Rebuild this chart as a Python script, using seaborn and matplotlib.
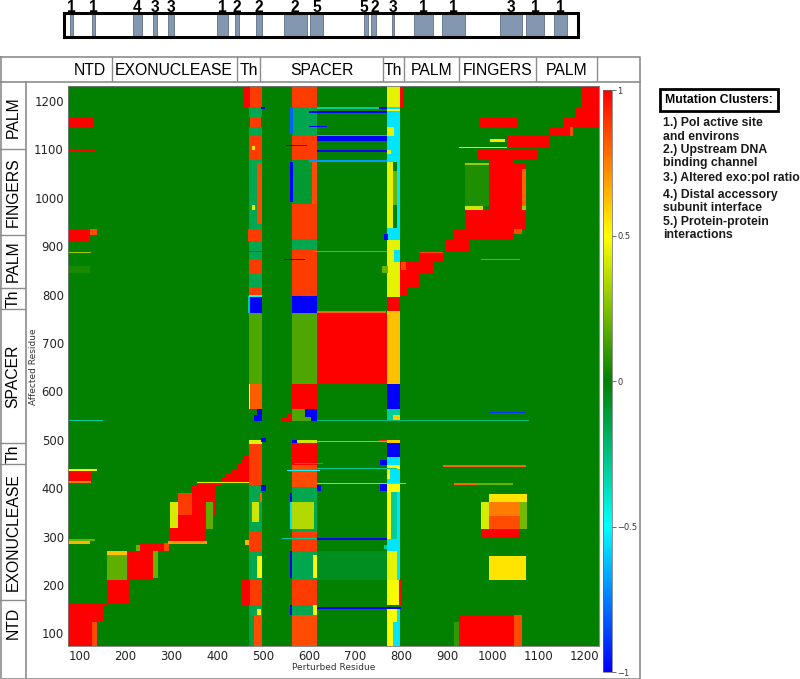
"""Residue perturbation heatmap with domain headers and mutation clusters."""

import matplotlib
matplotlib.use("Agg")
import matplotlib.pyplot as plt
import numpy as np
import seaborn as sns
from matplotlib.colors import LinearSegmentedColormap
from matplotlib.patches import Rectangle

plt.rcParams["font.family"] = ["Liberation Sans", "DejaVu Sans"]

# residue grid of the matrix
RES_MIN, RES_MAX, STEP = 75, 1231, 2
ticks = list(range(100, 1201, 100))

# domain annotation (perturbed axis / affected axis)
x_domains = ["NTD", "EXONUCLEASE", "Th", "SPACER", "Th", "PALM", "FINGERS", "PALM"]
x_domain_edges = [75, 170, 442, 494, 760, 806, 926, 1093, 1226]
y_domains = ["NTD", "EXONUCLEASE", "Th", "SPACER", "Th", "PALM", "FINGERS", "PALM"]
y_domain_edges = [5, 168, 449, 493, 769, 813, 922, 1100, 1238]

# mutation clusters on the sequence bar
cluster_starts = [77, 125, 215, 259, 291, 398, 438, 483, 544, 601, 719, 733, 779, 828, 888, 1015, 1072, 1133]
cluster_ends = [84, 133, 234, 267, 305, 423, 446, 496, 594, 630, 727, 745, 785, 868, 939, 1064, 1112, 1160]
cluster_labels = ["1", "1", "4", "3", "3", "1", "2", "2", "2", "5", "5", "2", "3", "1", "1", "3", "1", "1"]

legend_lines = [
    "1.) Pol active site", "and environs", "2.) Upstream DNA", "binding channel",
    "3.) Altered exo:pol ratio", "4.) Distal accessory", "subunit interface",
    "5.) Protein-protein", "interactions",
]

# blocks: (perturbed from, to, affected from, to, correlation)
diagonal_blocks = [
    (75, 126, 75, 124, 1.0), (126, 138, 75, 124, 0.85), (75, 152, 124, 158, 1.0),
    (75, 162, 158, 163, 1.0), (158, 210, 163, 210, 1.0), (158, 204, 210, 264, 0.18),
    (158, 206, 264, 270, 0.62), (204, 260, 210, 272, 1.0), (260, 271, 214, 270, 0.2),
    (223, 231, 272, 284, 0.2), (231, 290, 272, 285, 1.0), (285, 295, 272, 286, 0.85),
    (293, 377, 285, 291, 0.7), (297, 375, 291, 345, 1.0), (297, 315, 317, 372, 0.42),
    (315, 345, 345, 390, 0.88), (345, 395, 345, 405, 1.0), (374, 392, 314, 372, 0.18),
    (360, 410, 405, 411, 1.0), (356, 470, 411, 413, 0.45), (407, 470, 413, 421, 1.0),
    (420, 470, 421, 430, 1.0), (433, 470, 430, 440, 1.0), (445, 470, 440, 450, 1.0),
    (453, 470, 450, 458, 1.0), (460, 470, 458, 466, 1.0),
    (617, 769, 614, 763, 1.0), (617, 766, 763, 766, 0.8),
    (797, 816, 797, 814, 1.0), (797, 841, 814, 845, 1.0), (797, 870, 845, 869, 1.0),
    (799, 812, 852, 866, 0.85), (841, 892, 869, 886, 1.0), (841, 890, 885, 887, 0.85),
    (896, 946, 886, 914, 1.0), (946, 1073, 886, 889, 0.9), (975, 1059, 871, 873, 0.8),
    (914, 1048, 914, 934, 1.0), (1048, 1062, 925, 935, 0.85), (939, 1073, 934, 975, 1.0),
    (939, 979, 975, 984, 0.4), (939, 990, 984, 1068, 0.06), (939, 1030, 1068, 1072, 0.3),
    (990, 1073, 975, 1072, 1.0), (1062, 1072, 984, 1058, 0.8), (1062, 1073, 975, 984, 0.3),
    (993, 1045, 1072, 1080, 1.0), (968, 1095, 1080, 1101, 1.0), (928, 1030, 1102, 1105, 0.55),
    (1030, 1124, 1104, 1126, 1.0), (993, 1026, 1116, 1121, 0.55), (1124, 1167, 1126, 1146, 1.0),
    (1167, 1174, 1126, 1146, 0.85), (1153, 1231, 1146, 1167, 1.0), (970, 1053, 1146, 1167, 1.0),
    (1178, 1231, 1167, 1188, 1.0), (1190, 1231, 1188, 1231, 1.0),
]

offdiag_blocks = [
    (75, 129, 1147, 1167, 1.0), (75, 133, 1097, 1101, 1.0), (75, 123, 912, 936, 1.0),
    (123, 138, 924, 936, 0.85), (75, 125, 885, 887, 0.3), (75, 122, 845, 859, 0.04),
    (75, 128, 414, 436, 1.0), (75, 140, 436, 440, 0.5), (75, 125, 410, 414, 0.75),
    (75, 122, 285, 291, 0.65), (75, 133, 291, 296, 0.2),
    (992, 1075, 371, 388, 0.55), (975, 992, 314, 371, 0.42), (992, 1060, 342, 371, 0.75),
    (992, 1060, 314, 342, 0.85), (1060, 1075, 314, 371, 0.22), (975, 1060, 297, 314, 1.0),
    (990, 1072, 210, 260, 0.55), (914, 928, 76, 124, 0.1), (928, 1048, 75, 138, 1.0),
    (1048, 1062, 75, 138, 0.85), (617, 769, 210, 272, -0.06),
]

th1_stripe = [
    (469, 497, 75, 138, -0.12), (479, 497, 75, 138, 0.85), (469, 497, 138, 158, -0.15),
    (487, 494, 140, 152, 0.5), (450, 497, 158, 210, 0.88), (450, 470, 160, 210, 1.0),
    (469, 497, 210, 272, -0.15), (488, 497, 214, 260, 0.5), (469, 497, 272, 310, 0.88),
    (461, 469, 283, 293, 0.65), (469, 497, 310, 407, -0.15), (474, 490, 331, 372, 0.4),
    (493, 497, 372, 390, 0.8), (496, 506, 395, 406, -1.0), (469, 497, 407, 490, 0.88),
    (469, 497, 490, 500, 0.45), (496, 505, 496, 502, -1.0),
    (480, 497, 538, 550, -1.0), (488, 497, 550, 562, -1.0), (469, 497, 562, 614, 0.82),
    (469, 472, 562, 614, 0.5), (469, 497, 614, 763, 0.15), (466, 472, 763, 797, -0.3),
    (471, 497, 763, 797, -1.0), (469, 497, 795, 799, -0.5), (469, 497, 799, 815, 0.88),
    (469, 497, 815, 842, -0.15), (469, 497, 842, 873, 0.88), (469, 497, 873, 886, -0.15),
    (440, 473, 886, 890, 1.0), (469, 497, 890, 910, -0.15), (466, 497, 910, 934, 0.88),
    (469, 497, 934, 1078, -0.15), (487, 497, 945, 1070, 0.85), (474, 484, 975, 985, 0.45),
    (469, 497, 1078, 1126, 0.88), (476, 482, 1100, 1106, 0.55), (469, 497, 1126, 1146, -0.15),
    (472, 495, 1146, 1167, 0.88), (469, 497, 1167, 1186, -0.15), (496, 503, 1184, 1188, -1.0),
    (471, 497, 1186, 1231, 0.88), (458, 471, 1186, 1231, 1.0),
]

spacer_stripe = [
    (564, 617, 75, 138, 0.85), (564, 617, 138, 158, -0.15), (558, 564, 140, 158, -1.0),
    (609, 617, 140, 158, 0.5), (564, 617, 158, 210, 0.88), (564, 617, 210, 272, -0.15),
    (558, 564, 214, 270, -1.0), (609, 617, 214, 262, 0.5), (564, 617, 272, 310, 0.88),
    (564, 617, 310, 403, -0.15), (564, 610, 314, 372, 0.35), (558, 564, 314, 372, -0.55),
    (559, 564, 372, 392, -1.0), (617, 625, 395, 406, -1.0), (564, 617, 403, 448, 0.85),
    (564, 617, 448, 493, 1.0), (563, 573, 493, 500, -1.0), (573, 617, 493, 500, 0.4),
    (564, 617, 538, 562, 0.15), (592, 617, 548, 562, -1.0), (604, 617, 540, 548, -1.0),
    (541, 564, 538, 546, 1.0), (552, 564, 546, 555, 1.0),
    (564, 617, 562, 614, 1.0), (564, 617, 614, 763, 0.15), (564, 617, 763, 797, -1.0),
    (564, 617, 797, 893, 0.88), (564, 617, 893, 914, -0.15), (564, 617, 914, 986, 0.88),
    (564, 617, 986, 1078, -0.1), (560, 565, 990, 1075, -1.0), (606, 617, 986, 1075, 0.85),
    (564, 617, 1078, 1126, 0.88), (564, 617, 1126, 1186, -0.15), (560, 565, 1130, 1186, -0.8),
    (564, 617, 1186, 1231, 0.88),
]

th2_stripe = [
    (769, 784, 75, 124, 0.5), (784, 797, 75, 124, -0.55), (769, 790, 124, 152, 0.5),
    (790, 797, 124, 152, -0.55), (769, 795, 158, 210, 0.48), (795, 801, 160, 210, 1.0),
    (769, 790, 210, 272, 0.45), (790, 797, 210, 272, -0.55), (769, 797, 272, 296, -0.55),
    (762, 769, 275, 282, -0.3), (769, 778, 296, 393, 0.5), (778, 790, 296, 393, -0.3),
    (790, 797, 296, 393, -0.55), (769, 797, 393, 410, 0.5), (754, 769, 395, 410, -1.0),
    (769, 797, 410, 438, -0.55), (769, 775, 420, 438, 0.5), (769, 797, 438, 448, 0.5),
    (769, 797, 448, 465, -0.55), (754, 769, 448, 460, -1.0), (769, 797, 465, 493, -1.0),
    (769, 797, 493, 500, 0.6), (751, 769, 495, 500, 0.9), (769, 797, 538, 562, -0.3),
    (783, 797, 538, 552, 0.6), (769, 797, 562, 614, -1.0), (769, 797, 614, 766, 0.62),
    (769, 797, 766, 794, 1.0), (769, 797, 794, 866, 0.45), (758, 772, 845, 859, 0.2),
    (785, 797, 866, 893, -0.55), (769, 785, 866, 893, 0.45), (769, 797, 893, 913, 0.45),
    (769, 797, 913, 937, -0.55), (762, 772, 913, 925, -1.0), (769, 782, 937, 1075, 0.45),
    (782, 790, 985, 1055, 0.2), (790, 797, 937, 1075, -0.55), (769, 797, 1075, 1126, -0.55),
    (769, 780, 1090, 1100, 0.45), (769, 785, 1126, 1146, 0.45), (785, 797, 1126, 1146, -0.55),
    (769, 797, 1146, 1188, -0.55), (769, 797, 1180, 1183, 0.5), (769, 797, 1188, 1231, 0.45),
    (797, 806, 1188, 1231, 1.0),
]

row_lines = [
    (617, 769, 1183, 1186, -0.3), (752, 769, 1184, 1187, -1.0), (600, 769, 1175, 1178, -1.0),
    (600, 640, 1146, 1148, -1.0), (617, 769, 1127, 1129, -0.3), (617, 769, 1117, 1127, -1.0),
    (549, 596, 1106, 1108, -1.0), (617, 769, 1096, 1100, -1.0), (600, 769, 1075, 1078, -0.7),
    (610, 769, 888, 890, -0.3), (545, 592, 871, 873, -1.0), (560, 640, 886, 888, -0.4),
    (75, 150, 538, 540, -0.3), (617, 1080, 538, 540, -0.25), (990, 1073, 554, 556, -0.9),
    (617, 769, 494, 497, 0.7), (892, 1073, 443, 446, 0.8), (617, 790, 438, 440, -0.3),
    (550, 622, 435, 437, -0.5), (566, 632, 451, 453, -0.2), (914, 965, 407, 410, 0.8),
    (965, 1044, 407, 410, 0.2), (617, 812, 409, 412, -0.5), (541, 617, 295, 297, -0.3),
    (617, 769, 293, 297, -1.0), (617, 798, 152, 156, -1.0),
]


def paint(matrix, blocks):
    """Fill rectangular residue ranges of the matrix with a value."""
    for x0, x1, y0, y1, value in blocks:
        c0 = int(round((x0 - RES_MIN) / STEP))
        c1 = max(int(round((x1 - RES_MIN) / STEP)), c0 + 1)
        r0 = int(round((y0 - RES_MIN) / STEP))
        r1 = max(int(round((y1 - RES_MIN) / STEP)), r0 + 1)
        matrix[max(r0, 0):r1, max(c0, 0):c1] = value


n_cells = (RES_MAX - RES_MIN) // STEP
corr = np.zeros((n_cells, n_cells))
for group in [diagonal_blocks, offdiag_blocks, th1_stripe, spacer_stripe, th2_stripe, row_lines]:
    paint(corr, group)

cmap = LinearSegmentedColormap.from_list(
    "corr", [(0.0, "#0000ff"), (0.25, "#00ffff"), (0.5, "#008000"), (0.75, "#ffff00"), (1.0, "#ff0000")]
)

W, H = 800, 679
fig = plt.figure(figsize=(W / 100, H / 100), dpi=100)


def px_axes(x0, y0, x1, y1):
    return fig.add_axes([x0 / W, 1 - y1 / H, (x1 - x0) / W, (y1 - y0) / H])


ax = px_axes(68, 86, 599, 645.5)
cax = px_axes(603, 90, 612, 672)
sns.heatmap(corr, ax=ax, cmap=cmap, vmin=-1, vmax=1, cbar_ax=cax,
            xticklabels=False, yticklabels=False, rasterized=True)
ax.invert_yaxis()
pos = [(t - RES_MIN) / STEP for t in ticks]
ax.set_xticks(pos)
ax.set_xticklabels(ticks, family="DejaVu Sans")
ax.set_yticks(pos)
ax.set_yticklabels(ticks, family="DejaVu Sans", rotation=0)
ax.tick_params(length=0, labelsize=8.4, colors="#222222", pad=3)
for sp in ax.spines.values():
    sp.set_visible(True)
    sp.set_color("#777777")
    sp.set_linewidth(0.6)

cbar = ax.collections[0].colorbar
cbar.set_ticks([-1, -0.5, 0, 0.5, 1])
cbar.set_ticklabels(["\u22121", "\u22120.5", "0", "0.5", "1"])
cax.tick_params(labelsize=6, length=3, width=0.5, colors="#333333", pad=1)
for lab in cax.get_yticklabels():
    lab.set_family("DejaVu Sans")
cbar.outline.set_edgecolor("#666666")
cbar.outline.set_linewidth(0.5)

# sequence bar with mutation clusters
bar = px_axes(64, 13, 578, 37)
bar.set_xlim(65, 1185)
bar.set_ylim(0, 1)
for i, (s, e, lab) in enumerate(zip(cluster_starts, cluster_ends, cluster_labels)):
    bar.axvspan(s, e, color="#8497b0", ec="#5f6f86", lw=0.6)
    # the two adjacent clusters near 730 share one "52" label pair
    nudge = {10: -4, 11: 4}.get(i, 0)
    bar.text((s + e) / 2 + nudge, 1.06, lab, ha="center", va="baseline",
             fontsize=11.2, fontweight="bold", clip_on=False)
bar.set_xticks([])
bar.set_yticks([])
for sp in bar.spines.values():
    sp.set_linewidth(2.2)
    sp.set_color("black")

# domain header row
hdr = px_axes(68, 57, 599, 82)
hdr.set_xlim(RES_MIN, RES_MAX)
hdr.set_ylim(0, 1)
hdr.axis("off")
for i, name in enumerate(x_domains):
    lo, hi = max(x_domain_edges[i], RES_MIN), min(x_domain_edges[i + 1], RES_MAX)
    hdr.text((lo + hi) / 2, 0.46, name, ha="center", va="center", fontsize=11.3)
for e in x_domain_edges[1:]:
    hdr.plot([e, e], [0, 1], color="#8c8c8c", lw=1.0)

# domain column
col = px_axes(0, 82, 26, 679)
col.set_ylim(y_domain_edges[0], y_domain_edges[-1])
col.set_xlim(0, 1)
col.axis("off")
for i, name in enumerate(y_domains):
    lo, hi = max(y_domain_edges[i], RES_MIN), min(y_domain_edges[i + 1], RES_MAX)
    col.text(0.5, (lo + hi) / 2, name, ha="center", va="center", rotation=90, fontsize=11.3)
for e in y_domain_edges[1:-1]:
    col.plot([0, 1], [e, e], color="#8c8c8c", lw=1.0)

# frame, labels and legend on a pixel overlay
ov = fig.add_axes([0, 0, 1, 1])
ov.set_xlim(0, W)
ov.set_ylim(H, 0)
ov.axis("off")
frame = dict(color="#8c8c8c", lw=1.2)
ov.plot([0.7, 640, 640, 0.7, 0.7], [57, 57, 678.5, 678.5, 57], **frame)
ov.plot([0.7, 640], [82, 82], **frame)
ov.plot([26, 26], [82, 678.5], **frame)
ov.text(334, 668, "Perturbed Residue", ha="center", va="center", fontsize=6.5,
        family="DejaVu Sans", color="#333333")
ov.text(34, 367, "Affected Residue", ha="center", va="center", fontsize=6.5,
        family="DejaVu Sans", color="#333333", rotation=90)
ov.add_patch(Rectangle((660, 89), 118, 22, fill=False, ec="black", lw=2))
ov.text(719, 100, "Mutation Clusters:", ha="center", va="center", fontsize=8.8, fontweight="bold")
legend_y = [123, 137, 150, 163, 178, 195, 208, 222, 235]
for txt, y in zip(legend_lines, legend_y):
    ov.text(663, y, txt, ha="left", va="center", fontsize=8.8, fontweight="bold", color="#1a1a1a")

fig.savefig("out.png", dpi=100)
